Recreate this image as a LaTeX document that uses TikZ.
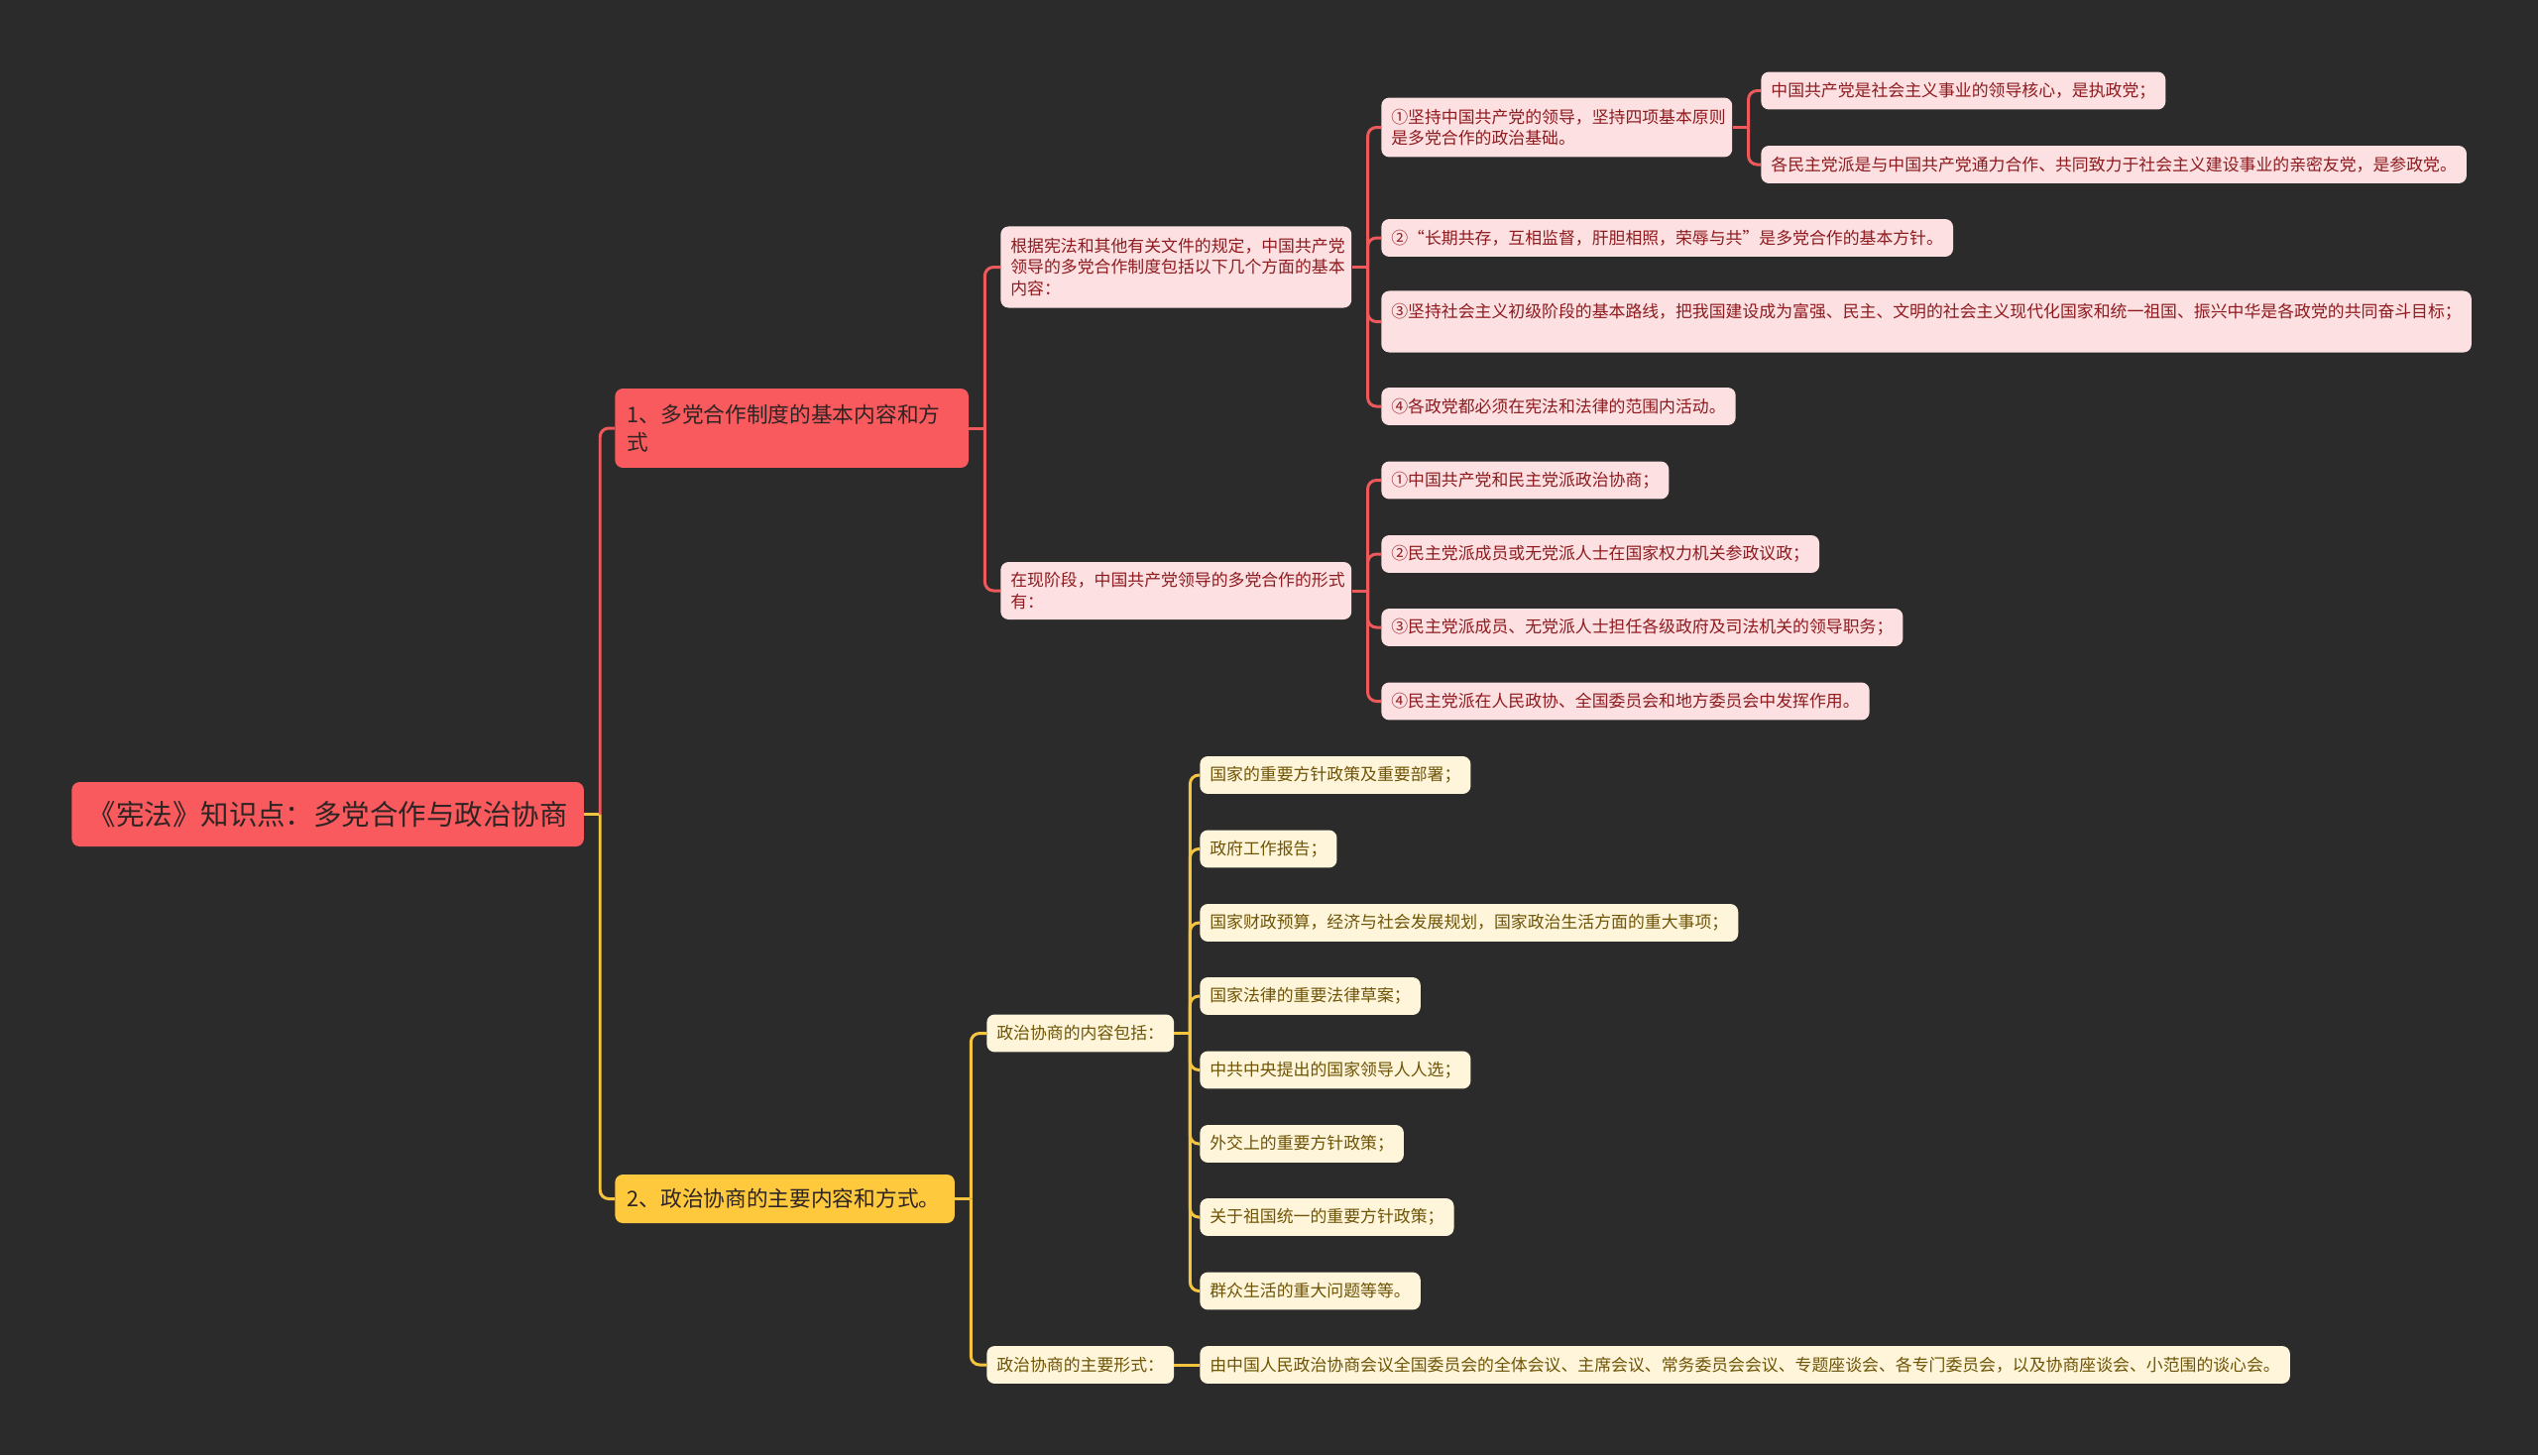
\documentclass[tikz,border=0pt]{standalone}
\usepackage{fontspec}
\setmainfont{Noto Sans CJK SC}
\usepackage{tikz}
\usetikzlibrary{calc}
\definecolor{mmbg}{HTML}{2B2B2B}
\definecolor{mmred}{HTML}{F95A5D}
\definecolor{mmpink}{HTML}{FDE0E1}
\definecolor{mmpinktxt}{HTML}{8E1B1F}
\definecolor{mmredline}{HTML}{EE5A5C}
\definecolor{mmyel}{HTML}{FEC93D}
\definecolor{mmcream}{HTML}{FFF5DA}
\definecolor{mmcreamtxt}{HTML}{6E5406}
\definecolor{mmyelline}{HTML}{F6C540}
\definecolor{mmdark}{HTML}{2E2424}
\tikzset{mmbox/.style={rounded corners=4.5pt,inner ysep=3pt,anchor=west},mmleaf/.style={mmbox,font=\fontsize{9.6}{12.35}\selectfont,inner xsep=5.7pt,minimum height=21.6pt,align=left},mmlink/.style={line width=1.7pt,rounded corners=5pt}}

\begin{document}
\begin{tikzpicture}[x=0.02cm,y=-0.02cm,
mmroot/.style={mmbox,fill=mmred,text=mmdark,font=\fontsize{16.2}{19}\selectfont,minimum width=294pt,minimum height=37pt},
mmtopic/.style={mmbox,font=\fontsize{12.35}{15.9}\selectfont,inner xsep=7pt,align=left,text=mmdark},
mmpinkbox/.style={mmleaf,fill=mmpink,text=mmpinktxt},
mmcreambox/.style={mmleaf,fill=mmcream,text=mmcreamtxt},
mmlinkr/.style={mmlink,draw=mmredline},
mmlinky/.style={mmlink,draw=mmyelline}]
\fill[mmbg] (0,0) rectangle (2560,1468);
% centre and the two topics
\node[mmroot] (root) at (72,821.5) {《宪法》知识点：多党合作与政治协商};
\node[mmtopic,fill=mmred,text width=189pt,minimum height=45.5pt] (t1) at (620,432) {1、多党合作制度的基本内容和方\\式};
\node[mmtopic,fill=mmyel,text width=181pt,minimum height=27.9pt] (t2) at (620,1209.5) {2、政治协商的主要内容和方式。};
% red branch
\node[mmpinkbox,text width=190pt,minimum height=46.7pt] (a1) at (1009,269.5) {根据宪法和其他有关文件的规定，中国共产党\\领导的多党合作制度包括以下几个方面的基本\\内容：};
\node[mmpinkbox,text width=190pt,minimum height=33pt] (a2) at (1009,596) {在现阶段，中国共产党领导的多党合作的形式\\有：};
\node[mmpinkbox,text width=190pt,minimum height=34.1pt] (b1) at (1393,128.5) {①坚持中国共产党的领导，坚持四项基本原则\\是多党合作的政治基础。};
\node[mmpinkbox] (b2) at (1393,240) {②“长期共存，互相监督，肝胆相照，荣辱与共”是多党合作的基本方针。};
\node[mmpinkbox,minimum height=35.3pt] (b3) at (1393,324.5) {③坚持社会主义初级阶段的基本路线，把我国建设成为富强、民主、文明的社会主义现代化国家和统一祖国、振兴中华是各政党的共同奋斗目标；\\\mbox{}};
\node[mmpinkbox] (b4) at (1393,410) {④各政党都必须在宪法和法律的范围内活动。};
\node[mmpinkbox] (c1) at (1776,91.5) {中国共产党是社会主义事业的领导核心，是执政党；};
\node[mmpinkbox] (c2) at (1776,166) {各民主党派是与中国共产党通力合作、共同致力于社会主义建设事业的亲密友党，是参政党。};
\foreach \i/\yy/\txt in {1/484.5/{①中国共产党和民主党派政治协商；},2/559/{②民主党派成员或无党派人士在国家权力机关参政议政；},3/633/{③民主党派成员、无党派人士担任各级政府及司法机关的领导职务；},4/707.5/{④民主党派在人民政协、全国委员会和地方委员会中发挥作用。}}{\node[mmpinkbox] (d\i) at (1393,\yy) {\txt};}
% yellow branch
\node[mmcreambox] (y1) at (995,1042.5) {政治协商的内容包括：};
\node[mmcreambox] (y2) at (995,1377) {政治协商的主要形式：};
\foreach \i/\yy/\txt in {1/782/{国家的重要方针政策及重要部署；},2/856.5/{政府工作报告；},3/931/{国家财政预算，经济与社会发展规划，国家政治生活方面的重大事项；},4/1005/{国家法律的重要法律草案；},5/1079.5/{中共中央提出的国家领导人人选；},6/1154/{外交上的重要方针政策；},7/1228/{关于祖国统一的重要方针政策；},8/1302.5/{群众生活的重大问题等等。}}{\node[mmcreambox] (e\i) at (1210,\yy) {\txt};}
\node[mmcreambox] (f1) at (1210,1377) {由中国人民政治协商会议全国委员会的全体会议、主席会议、常务委员会会议、专题座谈会、各专门委员会，以及协商座谈会、小范围的谈心会。};
% connectors
\foreach \p in {root,t1,t2,a1,a2,b1,y1}{\coordinate (\p-bus) at ($(\p.east)+(16,0)$);}
\foreach \p in {t1,a1,a2,b1}{\draw[mmlinkr] (\p.east) -- (\p-bus);}
\foreach \p in {root,t2,y1}{\draw[mmlinky] (\p.east) -- (\p-bus);}
\foreach \p/\c in {root/t1,t1/a1,t1/a2,a1/b1,a1/b2,a1/b3,a1/b4,b1/c1,b1/c2,a2/d1,a2/d2,a2/d3,a2/d4}{\draw[mmlinkr] (\p-bus) |- (\c.west);}
\foreach \p/\c in {root/t2,t2/y1,t2/y2}{\draw[mmlinky] (\p-bus) |- (\c.west);}
\foreach \i in {1,...,8}{\draw[mmlinky] (y1-bus) |- (e\i.west);}
\draw[mmlinky] (y2.east) -- (f1.west);
\end{tikzpicture}
\end{document}
